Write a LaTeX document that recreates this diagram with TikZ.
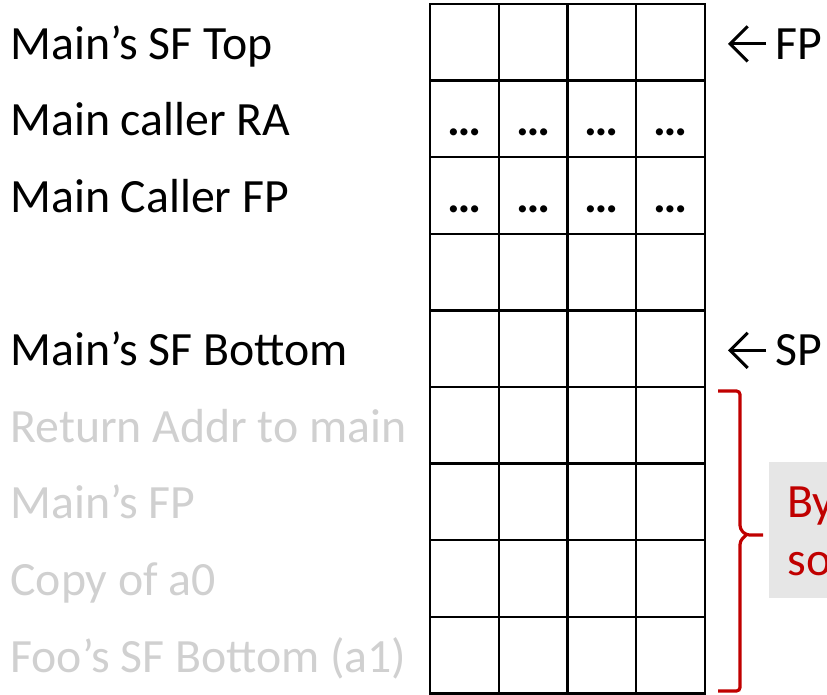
\documentclass[tikz,border=0pt]{standalone}
\usepackage{fontspec}
\setmainfont{Carlito}
\usetikzlibrary{arrows.meta}
\definecolor{fadedtext}{RGB}{208,208,208}
\definecolor{notered}{RGB}{192,0,0}
\definecolor{notebg}{RGB}{230,230,230}

\begin{document}
\begin{tikzpicture}[x=0.02cm, y=-0.02cm,
    slotlabel/.style={anchor=base west, inner sep=0pt, font=\fontsize{27.2}{31}\selectfont},
    oldlabel/.style={slotlabel, text=fadedtext},
    cellline/.style={line width=1.4pt},
    dots/.style={anchor=base, inner sep=0pt, font=\fontsize{27.2}{31}\selectfont\bfseries},
    ptr/.style={line width=1.7pt, -{Straight Barb[length=10pt, width=20pt]}}]
    \useasboundingbox (0,0) rectangle (827,695);

    % Stack cells
    \foreach \col in {0,...,3}
        \foreach \row in {0,...,8}
            \draw[cellline] ({430+68.75*\col},{4+76.6*\row}) rectangle ++(68.75,76.6);

    % Dots in the caller rows
    \foreach \col in {0,...,3}
        \foreach \row in {1,2}
            \node[dots] (dots-\row-\col) at ({464.4+68.75*\col},{59.3+76.6*\row}) {…};

    % Main's frame
    \node[slotlabel] (sftop) at (10,59.3) {Main’s SF Top};
    \node[slotlabel] (callerra) at (10,135.9) {Main caller RA};
    \node[slotlabel] (callerfp) at (10,212.5) {Main Caller FP};
    \node[slotlabel] (sfbottom) at (10,365.7) {Main’s SF Bottom};

    % Foo's part (faded)
    \node[oldlabel] (retaddr) at (10,442.3) {Return Addr to main};
    \node[oldlabel] (mainfp) at (10,518.9) {Main’s FP};
    \node[oldlabel] (copya0) at (10,595.5) {Copy of a0};
    \node[oldlabel] (foobottom) at (10,672.1) {Foo’s SF Bottom (a1)};

    % Pointers
    \node[slotlabel] (fp) at (775,59.3) {FP};
    \draw[ptr] ([xshift=-0.18cm]fp.west) -- ++(-38,0);
    \node[slotlabel] (sp) at (775,365.7) {SP};
    \draw[ptr] ([xshift=-0.18cm]sp.west) -- ++(-38,0);

    % Bracket and note
    \draw[notered, line width=1.8pt, rounded corners=2pt]
        (718,391) -| (740,529) -- (746,535) -- (763,535)
        (746,535) -- (740,541) |- (718,691);
    \fill[notebg] (769,462) rectangle (850,598);
    \node[slotlabel, text=notered] (noteby) at (787,517) {By};
    \node[slotlabel, text=notered] (noteso) at (787,575) {so};
\end{tikzpicture}
\end{document}
